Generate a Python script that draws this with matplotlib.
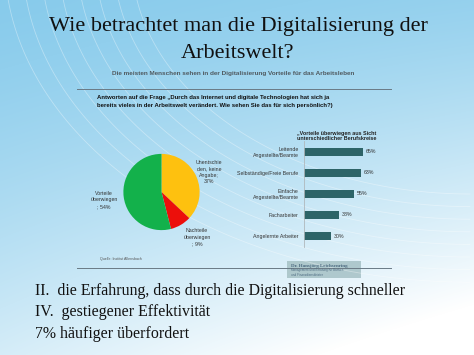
import numpy as np
import matplotlib.pyplot as plt

W, H = 474, 355

# data
pie_labels = ["Unentschie\nden, keine\nAngabe;\n37%", "Nachteile\nüberwiegen\n; 9%", "Vorteile\nüberwiegen\n; 54%"]
pie_values = [37, 9, 54]
pie_colors = ["#fec10f", "#ec0f0b", "#13b14b"]

bar_labels = ["Leitende\nAngestellte/Beamte", "Selbständige/Freie Berufe",
              "Einfache\nAngestellte/Beamte", "Facharbeiter", "Angelernte Arbeiter"]
bar_values = [65, 63, 55, 38, 30]

bullets = ["II.  die Erfahrung, dass durch die Digitalisierung schneller",
           "IV.  gestiegener Effektivität",
           "7% häufiger überfordert"]


def px(x, y, w, h):
    # pixel box (top-left origin) -> figure coords
    return [x / W, 1 - (y + h) / H, w / W, h / H]


fig = plt.figure(figsize=(W / 100, H / 100), dpi=100)

# background gradient (light blue slide)
bg = fig.add_axes([0, 0, 1, 1])
yy, xx = np.mgrid[0:H, 0:W]
t = np.clip(0.15 + 0.55 * (yy / H) ** 1.3 + 0.35 * (xx / W) * (yy / H) + 0.1 * (xx / W), 0, 1)
blue = np.array([0.45, 0.76, 0.91])
img = blue[None, None, :] * (1 - t[..., None]) + t[..., None]
bg.imshow(img, extent=[0, W, H, 0], aspect='auto')
# some soft white swooshes
for k in range(8):
    th = np.linspace(0, np.pi / 2, 100)
    r = 260 + k * 14
    bg.plot(470 - r * np.cos(th) * 1.3, -40 + r * np.sin(th) * 0.9, color='white', lw=0.6, alpha=0.35)
bg.set_xlim(0, W)
bg.set_ylim(H, 0)
bg.axis('off')

serif = ['Liberation Serif', 'DejaVu Serif']
sans = ['Liberation Sans', 'DejaVu Sans']

fig.text(238 / W, 1 - 27 / H, "Wie betrachtet man die Digitalisierung der", family=serif,
         fontsize=16, ha='center', va='center', color='#111111')
fig.text(238 / W, 1 - 53 / H, "Arbeitswelt?", family=serif,
         fontsize=16, ha='center', va='center', color='#111111')

fig.text(233 / W, 1 - 73 / H, "Die meisten Menschen sehen in der Digitalisierung Vorteile für das Arbeitsleben",
         family=sans, fontsize=4.6, weight='bold', ha='center', va='center', color='#505a60')

# separator lines
bg.plot([77, 391], [89, 89], color='#6a7a85', lw=0.7)
bg.plot([77, 391], [268, 268], color='#6a7a85', lw=0.7)

fig.text(97 / W, 1 - 97 / H, "Antworten auf die Frage „Durch das Internet und digitale Technologien hat sich ja",
         family=sans, fontsize=4.3, weight='bold', ha='left', va='center', color='#111111')
fig.text(97 / W, 1 - 105 / H, "bereits vieles in der Arbeitswelt verändert. Wie sehen Sie das für sich persönlich?)",
         family=sans, fontsize=4.3, weight='bold', ha='left', va='center', color='#111111')

# pie
pax = fig.add_axes(px(123, 153.5, 77, 77))
wedges, _ = pax.pie(pie_values, colors=pie_colors, startangle=90, counterclock=False, radius=1)
pax.set_aspect('auto')
pax.set_xlim(-1.01, 1.01)
pax.set_ylim(-1.01, 1.01)
label_pos = [(209, 172), (197, 237), (104, 200)]
for lab, (lx, ly) in zip(pie_labels, label_pos):
    fig.text(lx / W, 1 - ly / H, lab, family=sans, fontsize=3.8, ha='center', va='center',
             color='#333333', linespacing=1.35)

fig.text(100 / W, 1 - 259 / H, "Quelle: Institut Allensbach", family=sans, fontsize=2.6,
         ha='left', va='center', color='#555555')

# bars
bax = fig.add_axes(px(304, 141.5, 91, 105))
ypos = np.arange(len(bar_values))
bax.barh(ypos, bar_values, height=0.35, color='#2d6468')
bax.set_xlim(0, 100)
bax.set_ylim(len(bar_values) - 0.5, -0.5)
bax.set_yticks(ypos)
bax.set_yticklabels(bar_labels, family=sans, fontsize=3.8, color='#333333', linespacing=1.2)
bax.tick_params(axis='y', length=0, pad=4)
bax.set_xticks([])
for s in ['top', 'right', 'bottom']:
    bax.spines[s].set_visible(False)
bax.spines['left'].set_color('#b0b8bc')
bax.spines['left'].set_linewidth(0.6)
bax.patch.set_alpha(0)
for yv, v in zip(ypos, bar_values):
    bax.text(v + 3, yv, f"{v}%", family=sans, fontsize=3.8, va='center', ha='left', color='#333333')

fig.text(337 / W, 1 - 136 / H, "„Vorteile überwiegen aus Sicht\nunterschiedlicher Berufskreise",
         family=sans, fontsize=3.9, weight='bold', ha='center', va='center', color='#222222',
         linespacing=1.15)

# name box
bg.add_patch(plt.Rectangle((287, 261), 74, 17, facecolor='#a9c4c8', edgecolor='none', alpha=0.9))
fig.text(291 / W, 1 - 265.5 / H, "Dr. Hansjörg Leichsenring", family=serif, fontsize=3.6,
         weight='bold', ha='left', va='center', color='#4c6a80')
fig.text(291 / W, 1 - 272.5 / H, "Management und Beratung für Banken\nund Finanzdienstleister", family=sans,
         fontsize=2.2, ha='left', va='center', color='#4c6a80', linespacing=1.0)

# bullet lines
for i, line in enumerate(bullets):
    fig.text(35 / W, 1 - (291 + 21.5 * i) / H, line, family=serif, fontsize=11.4,
             ha='left', va='center', color='#111111')

fig.savefig("out.png", dpi=100)
